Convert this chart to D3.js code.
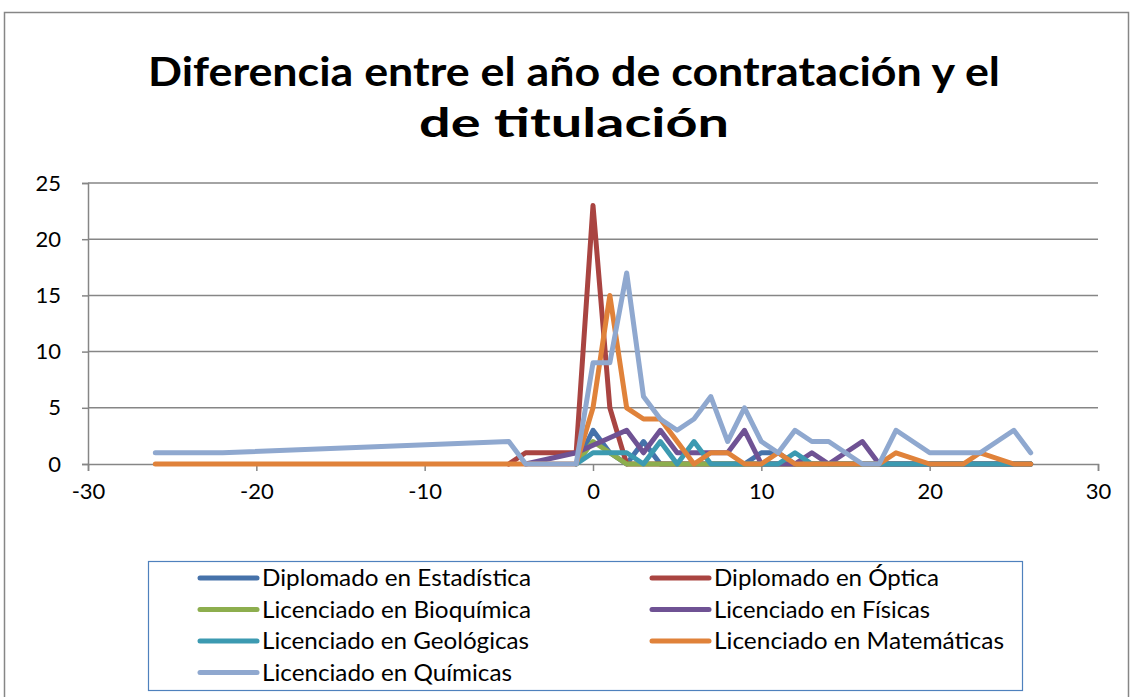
<!DOCTYPE html>
<html><head><meta charset="utf-8">
<script src="https://cdn.jsdelivr.net/npm/d3@7"></script>
<style>body{margin:0;background:#fff;} svg{display:block;}</style>
</head><body>
<svg id="c" width="1131" height="697"></svg>
<script>
const seriesNames = ["Diplomado en Estadística","Diplomado en Óptica","Licenciado en Bioquímica","Licenciado en Físicas","Licenciado en Geológicas","Licenciado en Matemáticas","Licenciado en Químicas"];
const seriesColors = ["#4672AA","#A94441","#8DAE4E","#6F5294","#3C9AB1","#E0823A","#8FA8CF"];
const r = (a,b)=>d3.range(a,b+1);
const estX = r(-1,26);
const estY = [0,3,1,0,2,0,0,0,0,0,0,1,1,0, 0,0,0,0,0,0,0,0,0,0,0,0,0,0];
const optX = r(-5,26);
const optY = [0,1,1,1,1,23,5,0, 0,0,0,0,0,0,0,0,0,0,0,0,0,0,0,0,0,0,0,0,0,0,0,0];
const bioX = r(-1,26);
const bioY = [0,2,1,0, 0,0,0,0,0,0,0,0,0,0,0,0,0,0,0,0,0,0,0,0,0,0,0,0];
const fisX = [-4,-1].concat(r(2,26));
const fisY = [0,1,3,1,3,1,1,1,1,3,0,0,0,1,0,1,2,0,0,0,0,0,0,0,0,0,0];
const geoX = r(-1,26);
const geoY = [0,1,1,1,0,2,0,2,0,0,0,0,0,1,0,0,0,0,0,0,0,0,0,0,0,0,0,0];
const matX = [-26,-22].concat(r(-5,18),[20,21,22,23,25,26]);
const matY = [0,0,0,0,0,0,0,5,15,5,4,4,2,0,1,1,0,0,1,0,0,0,0,0,0,1,0,0,0,1,0,0];
const quiX = [-26,-22].concat(r(-5,26));
const quiY = [1,1,2,0,0,0,0,9,9,17,6,4,3,4,6,2,5,2,1,3,2,2,1,0,0,3,2,1,1,1,1,2,3,1];
const seriesX = [estX,optX,bioX,fisX,geoX,matX,quiX];
const seriesY = [estY,optY,bioY,fisY,geoY,matY,quiY];
const xTicks = [-30,-20,-10,0,10,20,30];
const yTicks = [0,5,10,15,20,25];
const titleLines = ["Diferencia entre el año de contratación y el","de titulación"];

const FONT = "Lato, 'Open Sans', sans-serif";
const svg = d3.select("#c");
const grey = "#868686";
svg.append("rect").attr("x",4.5).attr("y",12.5).attr("width",1124).attr("height",700)
  .attr("fill","#fff").attr("stroke",grey).attr("stroke-width",1.5);

// title
const tw = [852, 310];
const tb = [86, 137];
titleLines.forEach((s,i)=>{
  svg.append("text").attr("x",574).attr("y",tb[i]).attr("text-anchor","middle")
    .attr("font-family",FONT).attr("font-weight","bold").attr("font-size",41).attr("fill","#000")
    .attr("textLength",tw[i]).attr("lengthAdjust","spacingAndGlyphs").text(s);
});

const x = d3.scaleLinear().domain([-30,30]).range([88,1098]);
const y = d3.scaleLinear().domain([0,25]).range([464,183]);

svg.append("g").selectAll("line").data(yTicks.filter(d=>d>0)).join("line")
  .attr("x1",88).attr("x2",1098).attr("y1",d=>y(d)).attr("y2",d=>y(d))
  .attr("stroke",grey).attr("stroke-width",1.5);

const gx = svg.append("g").attr("transform",`translate(0,${y(0)})`)
  .call(d3.axisBottom(x).tickValues(xTicks).tickSize(7).tickPadding(12).tickFormat(d3.format("d")));
const gy = svg.append("g").attr("transform",`translate(${x(-30)},0)`)
  .call(d3.axisLeft(y).tickValues(yTicks).tickSize(6).tickPadding(21));
[gx,gy].forEach(g=>{
  g.select(".domain").attr("stroke",grey).attr("stroke-width",1.5);
  g.selectAll(".tick line").attr("stroke",grey).attr("stroke-width",1.5);
  g.selectAll(".tick text").attr("font-family",FONT).attr("font-size",22).attr("fill","#000");
});
gx.selectAll(".tick text").text(d=>d<0?"-"+Math.abs(d):d);

const line = d3.line().x(d=>x(d[0])).y(d=>y(d[1]));
seriesNames.forEach((n,i)=>{
  const pts = seriesX[i].map((xv,j)=>[xv, seriesY[i][j]]);
  svg.append("path").datum(pts).attr("d",line).attr("fill","none")
    .attr("stroke",seriesColors[i]).attr("stroke-width",5)
    .attr("stroke-linejoin","round").attr("stroke-linecap","round");
});

// legend
const legendW = [269, 225, 269, 216, 267, 290, 250];
svg.append("rect").attr("x",148.5).attr("y",561.5).attr("width",874).attr("height",129)
  .attr("fill","#fff").attr("stroke","#4F81BD").attr("stroke-width",1.2);
const colX = [200, 652];
const rowY = [578, 609.5, 641, 672.5];
seriesNames.forEach((n,i)=>{
  const cx = colX[i%2], cy = rowY[Math.floor(i/2)];
  svg.append("line").attr("x1",cx).attr("x2",cx+57).attr("y1",cy).attr("y2",cy)
    .attr("stroke",seriesColors[i]).attr("stroke-width",5).attr("stroke-linecap","round");
  svg.append("text").attr("x",cx+62).attr("y",cy+8).attr("font-family",FONT)
    .attr("font-size",23).attr("fill","#000")
    .attr("textLength",legendW[i]).attr("lengthAdjust","spacingAndGlyphs").text(n);
});
</script>
</body></html>
